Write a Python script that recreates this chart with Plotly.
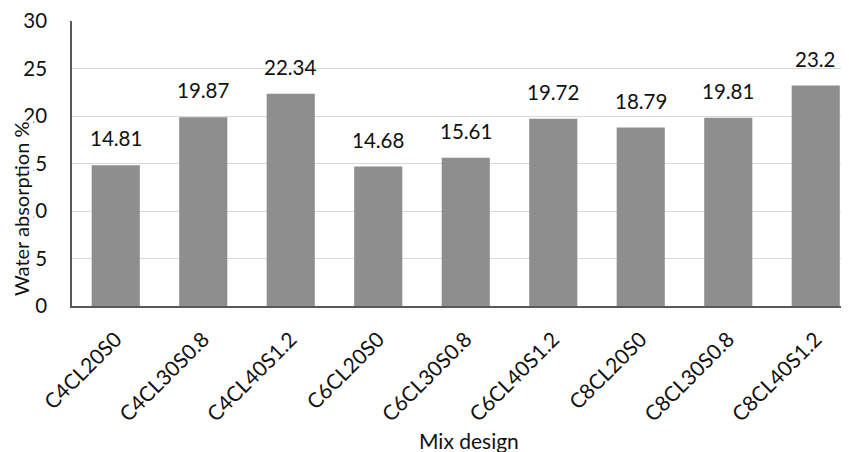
import plotly.graph_objects as go

categories = ["C4CL20S0", "C4CL30S0.8", "C4CL40S1.2", "C6CL20S0", "C6CL30S0.8",
              "C6CL40S1.2", "C8CL20S0", "C8CL30S0.8", "C8CL40S1.2"]
values = [14.81, 19.87, 22.34, 14.68, 15.61, 19.72, 18.79, 19.81, 23.2]
value_labels = ["14.81", "19.87", "22.34", "14.68", "15.61", "19.72", "18.79", "19.81", "23.2"]
y_ticks = [0, 5, 10, 15, 20, 25, 30]

FONT = "Lato, 'Open Sans', sans-serif"
OFF = 8  # default page body margin
W, H = 849 - OFF, 452 - OFF
ML, MR, MT, MB = 72 - OFF, 0, 21 - OFF, 146
plot_w = W - ML - MR
plot_h = H - MT - MB
plot_left = ML + OFF          # screen px
plot_bottom = OFF + H - MB    # screen px

fig = go.Figure()
fig.add_trace(go.Bar(
    x=list(range(len(categories))), y=values,
    width=0.55, marker=dict(color="#8e8e8e", line=dict(width=0)),
    hoverinfo="skip",
))

annotations = []
for i, (v, t) in enumerate(zip(values, value_labels)):
    annotations.append(dict(
        x=i, y=v, xref="x", yref="y", text=t, showarrow=False,
        yanchor="bottom", yshift=13,
        font=dict(family=FONT, size=20.5, color="#111111"),
    ))

# y-axis title (opaque, overlapping tick labels like the reference)
annotations.append(dict(
    xref="paper", yref="paper",
    x=(21 - plot_left) / plot_w, y=(plot_bottom - 209) / plot_h,
    text="Water absorption %", textangle=-90, showarrow=False,
    xanchor="center", yanchor="middle",
    bgcolor="white", borderpad=0,
    font=dict(family=FONT, size=20, color="#111111"),
))
# x-axis title
annotations.append(dict(
    xref="paper", yref="paper",
    x=(469 - plot_left) / plot_w, y=-(440 - plot_bottom) / plot_h,
    text="Mix design", showarrow=False,
    xanchor="center", yanchor="middle",
    font=dict(family=FONT, size=21, color="#111111"),
))

fig.update_layout(
    width=W, height=H,
    margin=dict(l=ML, r=MR, t=MT, b=MB, pad=0),
    paper_bgcolor="white", plot_bgcolor="white",
    showlegend=False,
    annotations=annotations,
    xaxis=dict(
        range=[-0.5, -0.5 + plot_w / 87.5],
        tickmode="array", tickvals=list(range(len(categories))), ticktext=categories,
        tickangle=-45, ticks="", showgrid=False, zeroline=False,
        showline=True, linecolor="#595959", linewidth=1.5,
        tickfont=dict(family=FONT, size=21, color="#111111"),
        ticklabelstandoff=11,
    ),
    yaxis=dict(
        range=[0, 30], tickmode="array", tickvals=y_ticks,
        ticktext=[str(t) for t in y_ticks],
        showgrid=True, gridcolor="#d9d9d9", gridwidth=1,
        zeroline=False, showline=True, linecolor="#595959", linewidth=1.5,
        ticks="", ticklabelstandoff=19,
        tickfont=dict(family=FONT, size=20.5, color="#111111"),
    ),
)

fig.write_html("out.html")
